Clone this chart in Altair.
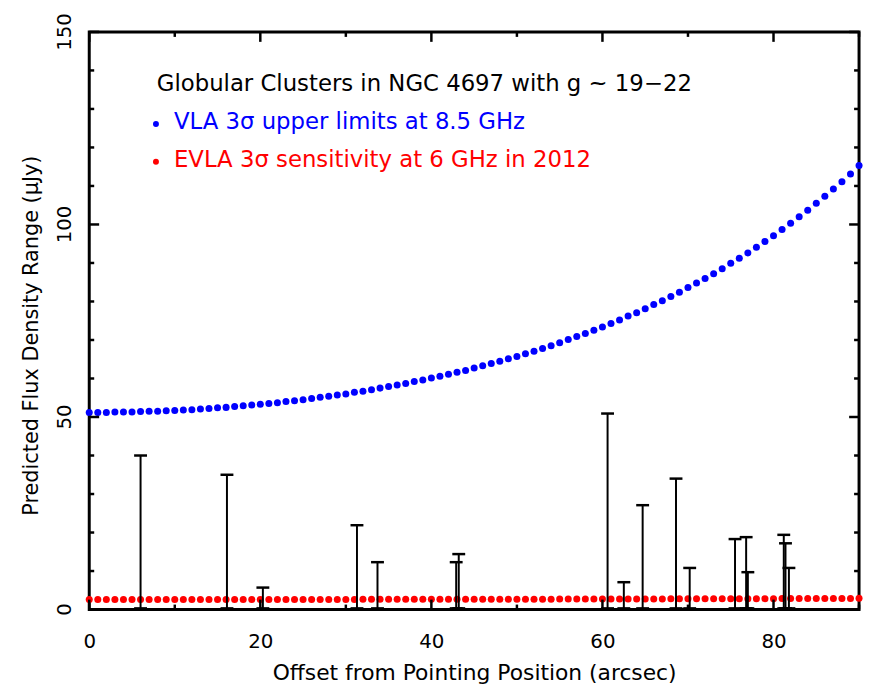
import altair as alt
import pandas as pd

# ---------------- data ----------------
offset = list(range(0, 91))

vla_limit = [
    51.2, 51.2, 51.2, 51.3, 51.3, 51.3, 51.4, 51.5, 51.5, 51.6,
    51.7, 51.8, 51.9, 52.1, 52.2, 52.4, 52.5, 52.7, 52.9, 53.1,
    53.3, 53.5, 53.7, 54.0, 54.2, 54.5, 54.8, 55.1, 55.4, 55.7,
    56.0, 56.4, 56.7, 57.1, 57.5, 57.9, 58.3, 58.7, 59.2, 59.6,
    60.1, 60.6, 61.1, 61.6, 62.1, 62.7, 63.3, 63.9, 64.5, 65.1,
    65.7, 66.4, 67.1, 67.8, 68.5, 69.3, 70.1, 70.9, 71.7, 72.5,
    73.4, 74.3, 75.2, 76.2, 77.1, 78.1, 79.2, 80.2, 81.3, 82.4,
    83.6, 84.8, 86.0, 87.2, 88.5, 89.9, 91.2, 92.6, 94.1, 95.6,
    97.1, 98.7, 100.3, 102.0, 103.7, 105.5, 107.3, 109.2, 111.1, 113.1,
    115.3,
]

evla_sens = [
    2.60, 2.60, 2.60, 2.60, 2.60, 2.60, 2.60, 2.60, 2.60, 2.60, 2.60,
    2.60, 2.61, 2.61, 2.61, 2.61, 2.61, 2.61, 2.61, 2.61, 2.61,
    2.62, 2.62, 2.62, 2.62, 2.62, 2.62, 2.63, 2.63, 2.63, 2.63,
    2.63, 2.64, 2.64, 2.64, 2.64, 2.65, 2.65, 2.65, 2.65, 2.66,
    2.66, 2.66, 2.66, 2.67, 2.67, 2.67, 2.68, 2.68, 2.68, 2.69,
    2.69, 2.70, 2.70, 2.70, 2.71, 2.71, 2.72, 2.72, 2.73, 2.73,
    2.73, 2.74, 2.74, 2.75, 2.75, 2.76, 2.76, 2.77, 2.77, 2.78,
    2.78, 2.79, 2.79, 2.80, 2.80, 2.81, 2.82, 2.82, 2.83, 2.83,
    2.84, 2.85, 2.85, 2.86, 2.86, 2.87, 2.88, 2.88, 2.89, 2.90,
]

gc_offset = [6.0, 16.1, 20.3, 31.3, 33.7, 42.9, 43.2, 60.6, 62.5, 64.7,
             68.6, 70.2, 75.5, 76.8, 77.0, 81.2, 81.4, 81.8]
gc_low = [0.3] * 18
gc_high = [40.0, 35.0, 5.7, 21.9, 12.3, 12.3, 14.4, 50.9, 7.1, 27.1,
           34.0, 10.8, 18.3, 18.8, 9.7, 19.4, 17.2, 10.8]

x_major = [0, 20, 40, 60, 80]
x_minor = [10, 30, 50, 70, 90]
y_major = [0, 50, 100, 150]
y_major_labels = ["0", "50", "100", "150"]
y_minor = [10, 20, 30, 40, 60, 70, 80, 90, 110, 120, 130, 140]

title_text = "Globular Clusters in NGC 4697 with g ~ 19\u221222"
vla_text = "VLA 3\u03c3 upper limits at 8.5 GHz"
evla_text = "EVLA 3\u03c3 sensitivity at 6 GHz in 2012"
x_title = "Offset from Pointing Position (arcsec)"
y_title = "Predicted Flux Density Range (\u03bcJy)"

# ---------------- layout ----------------
W, H = 777, 583
FONT = "DejaVu Sans"
MAJ, MIN = 10, 5

xs = alt.Scale(domain=[0, 90], nice=False, zero=False)
ys = alt.Scale(domain=[0, 150], nice=False, zero=False)

x_axis = alt.Axis(values=x_major, title=x_title)
y_axis = alt.Axis(values=y_major, title=y_title, labels=False)


def X(field):
    return alt.X(field, scale=xs, axis=x_axis)


def Y(field):
    return alt.Y(field, scale=ys, axis=y_axis)


curves = pd.DataFrame({"offset": offset, "vla": vla_limit, "evla": evla_sens})
bars = pd.DataFrame({"offset": gc_offset, "low": gc_low, "high": gc_high})

vla_layer = alt.Chart(curves).mark_circle(size=50, opacity=1, color="#0000ff").encode(
    x=X("offset:Q"), y=Y("vla:Q"))
evla_layer = alt.Chart(curves).mark_circle(size=50, opacity=1, color="#ff0000").encode(
    x=X("offset:Q"), y=Y("evla:Q"))

bar_rules = alt.Chart(bars).mark_rule(color="black", strokeWidth=2).encode(
    x=X("offset:Q"), y=Y("low:Q"), y2="high:Q")
cap_top = alt.Chart(bars).mark_tick(color="black", orient="horizontal", size=13,
                                    thickness=2.5, opacity=1).encode(
    x=X("offset:Q"), y=Y("high:Q"))
cap_bot = alt.Chart(bars).mark_tick(color="black", orient="horizontal", size=13,
                                    thickness=2.5, opacity=1).encode(
    x=X("offset:Q"), y=Y("low:Q"))


# inward ticks on all four sides
def xticks(vals, length):
    d = pd.DataFrame({"offset": vals})
    bottom = alt.Chart(d).mark_rule(color="black", strokeWidth=2.5).encode(
        x=X("offset:Q"), y=alt.value(H), y2=alt.value(H - length))
    top = alt.Chart(d).mark_rule(color="black", strokeWidth=2.5).encode(
        x=X("offset:Q"), y=alt.value(0), y2=alt.value(length))
    return [bottom, top]


def yticks(vals, length):
    d = pd.DataFrame({"flux": vals})
    left = alt.Chart(d).mark_rule(color="black", strokeWidth=2.5).encode(
        y=Y("flux:Q"), x=alt.value(0), x2=alt.value(length))
    right = alt.Chart(d).mark_rule(color="black", strokeWidth=2.5).encode(
        y=Y("flux:Q"), x=alt.value(W), x2=alt.value(W - length))
    return [left, right]


tick_layers = xticks(x_major, MAJ) + xticks(x_minor, MIN) + yticks(y_major, MAJ) + yticks(y_minor, MIN)

# rotated y tick labels (text reads bottom-to-top)
ylab = pd.DataFrame({"flux": y_major, "label": y_major_labels})
ylab_layer = alt.Chart(ylab).mark_text(align="center", baseline="middle",
                                       font=FONT, fontSize=20, color="black").encode(
    y=Y("flux:Q"), x=alt.value(-24), text="label:N", angle=alt.value(-90))

# annotation (legend) text
ann = pd.DataFrame({
    "offset": [7.9, 9.9, 9.9],
    "flux": [136.4, 126.6, 116.8],
    "label": [title_text, vla_text, evla_text],
    "col": ["black", "#0000ff", "#ff0000"],
})
ann_text = alt.Chart(ann).mark_text(align="left", baseline="middle", font=FONT,
                                    fontSize=23).encode(
    x=X("offset:Q"), y=Y("flux:Q"), text="label:N",
    color=alt.Color("col:N", scale=None, legend=None),
)
ann_dots = pd.DataFrame({"offset": [7.8, 7.8], "flux": [126.1, 116.3],
                         "col": ["#0000ff", "#ff0000"]})
ann_dot_layer = alt.Chart(ann_dots).mark_circle(size=36, opacity=1).encode(
    x=X("offset:Q"), y=Y("flux:Q"),
    color=alt.Color("col:N", scale=None, legend=None),
)

chart = alt.layer(
    vla_layer, evla_layer, bar_rules, cap_top, cap_bot, *tick_layers, ylab_layer,
    ann_text, ann_dot_layer
).properties(
    width=W, height=H,
    padding={"left": 82, "top": 21, "right": 5, "bottom": 72},
    autosize=alt.AutoSizeParams(type="none"),
    background="white",
).configure_view(
    stroke="black", strokeWidth=3
).configure_axis(
    ticks=False, tickSize=0, domain=False, grid=False,
    labelFont=FONT, labelColor="black", labelFlush=False,
    titleFont=FONT, titleFontWeight="normal", titleColor="black",
).configure_axisX(
    labelPadding=22, labelFontSize=20, titleY=64, titleBaseline="middle", titleFontSize=22,
).configure_axisY(
    labels=False, titleX=-58, titleY=306, titleAlign="center",
    titleBaseline="middle", titleFontSize=21,
)

chart.save("out.html", embed_options={"renderer": "svg", "actions": False})
